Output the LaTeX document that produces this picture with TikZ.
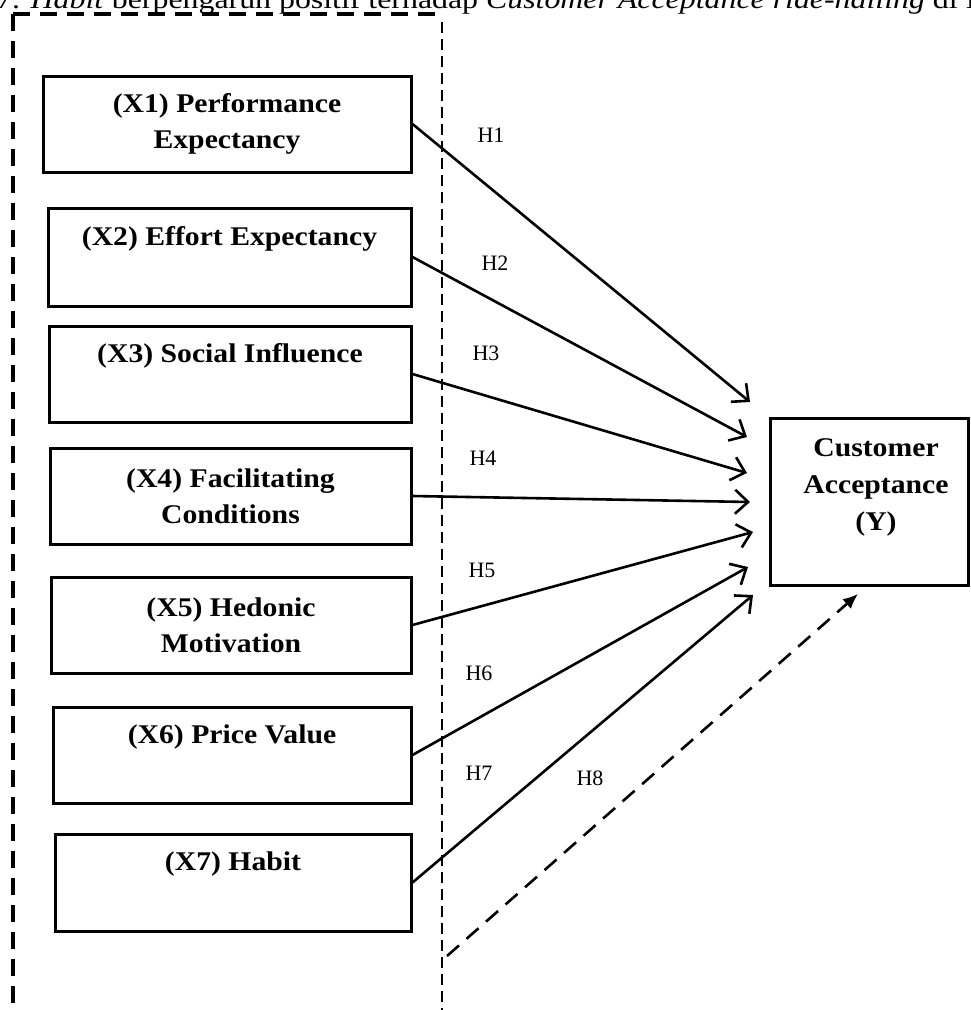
\documentclass[tikz,border=0pt]{standalone}
\usepackage{fontspec}
\setmainfont{Liberation Serif}
\newfontfamily\boxfont{Liberation Serif}[UprightFont=* Bold, FakeStretch=1.1]
\newfontfamily\capfont{Liberation Serif}[FakeStretch=1.18]
\usetikzlibrary{arrows.meta}
\begin{document}
\begin{tikzpicture}[x=1pt,y=-1pt,
  box/.style={draw, line width=3pt, align=center, inner sep=0pt,
    font=\boxfont\fontsize{27}{36}\selectfont},
  boxtext/.style={align=center, inner sep=0pt, font=\boxfont\fontsize{27}{37}\selectfont},
  hyp/.style={inner sep=0pt, font=\fontsize{22}{26}\selectfont},
  link/.style={line width=2.6pt, -{Straight Barb[length=13pt,width=24pt]}},
  moderate/.style={line width=2.6pt, dash pattern=on 16pt off 10pt, -{Latex[length=15pt,width=13pt]}},
  outerframe/.style={line width=3.5pt, dash pattern=on 17pt off 10pt},
  innerframe/.style={line width=2.5pt, dash pattern=on 11pt off 6pt}
]
\useasboundingbox (0,0) rectangle (970,1010);
\clip (0,0) rectangle (970,1010);

% cut-off caption line above the figure
\node[anchor=base west, inner sep=0pt, font=\capfont\fontsize{27}{30}\selectfont] (caption) at (-4,8)
  {7. \textit{Habit} berpengaruh positif terhadap \textit{Customer Acceptance ride-hailing} di I};

% dashed frame
\draw[outerframe] (13,14) -- (442,14);
\draw[outerframe] (13,14) -- (13,1015);
\draw[innerframe] (442,22) -- (442,1015);

% independent variables
\node[box, minimum width=368pt, minimum height=96pt] (x1) at (227,124) {(X1) Performance\\Expectancy};
\node[box, minimum width=363pt, minimum height=98pt] (x2) at (229.5,257) {(X2) Effort Expectancy\\\phantom{(Xy)}};
\node[box, minimum width=362pt, minimum height=96pt] (x3) at (230,374) {(X3) Social Influence\\\phantom{(Xy)}};
\node[box, minimum width=361pt, minimum height=96pt] (x4) at (230.5,496) {(X4) Facilitating\\Conditions};
\node[box, minimum width=360pt, minimum height=96pt] (x5) at (231,625) {(X5) Hedonic\\Motivation};
\node[box, minimum width=358pt, minimum height=96pt] (x6) at (232,755) {(X6) Price Value\\\phantom{(Xy)}};
\node[box, minimum width=356pt, minimum height=97pt] (x7) at (233,882.5) {(X7) Habit\\\phantom{(Xy)}};

% dependent variable
\node[draw, line width=3pt, minimum width=198pt, minimum height=167pt, inner sep=0pt] (y) at (869,501.5) {};
\node[boxtext] (ytxt) at (876,487) {Customer\\Acceptance\\(Y)};

% arrow tip positions
\coordinate (t1) at (750,402);
\coordinate (t2) at (747,437);
\coordinate (t3) at (747,473);
\coordinate (t4) at (750,502);
\coordinate (t5) at (753,532);
\coordinate (t6) at (748,567);
\coordinate (t7) at (753,595);
\coordinate (h8s) at (447,956);
\coordinate (t8) at (858,594);

\draw[link] (x1.east) -- (t1);
\draw[link] (x2.east) -- (t2);
\draw[link] (x3.east) -- (t3);
\draw[link] (x4.east) -- (t4);
\draw[link] (x5.east) -- (t5);
\draw[link] (x6.east) -- (t6);
\draw[link] (x7.east) -- (t7);
\draw[moderate] (h8s) -- (t8);

% hypothesis labels
\node[hyp] (h1) at (491,135) {H1};
\node[hyp] (h2) at (495,263) {H2};
\node[hyp] (h3) at (486,353) {H3};
\node[hyp] (h4) at (483,458) {H4};
\node[hyp] (h5) at (482,570) {H5};
\node[hyp] (h6) at (479,673) {H6};
\node[hyp] (h7) at (479,773) {H7};
\node[hyp] (h8) at (590,778) {H8};
\end{tikzpicture}
\end{document}
